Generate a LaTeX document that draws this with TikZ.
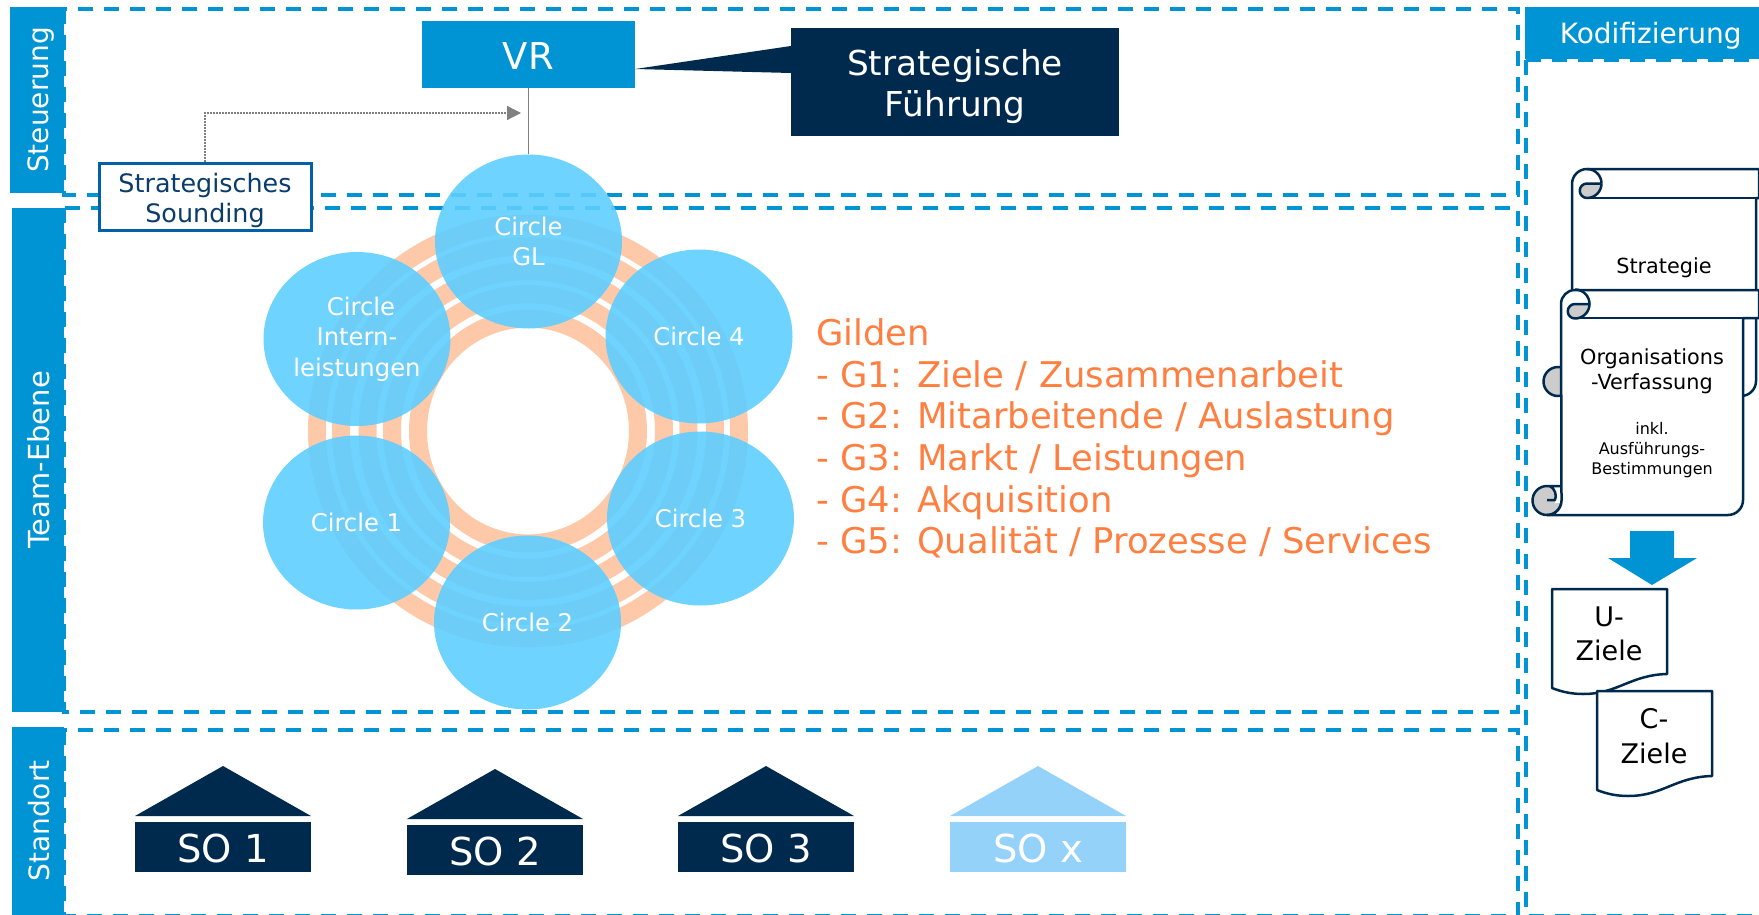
\documentclass[tikz,border=0pt]{standalone}
\usepackage{fontspec}
\setmainfont{DejaVu Sans}
\usetikzlibrary{
  positioning,
  arrows.meta,
  shapes.geometric
}
\definecolor{bandblue}{HTML}{0094D4}
\definecolor{darknavy}{HTML}{002A4D}
\definecolor{circleblue}{HTML}{5FCEFF}
\definecolor{ringorange}{HTML}{FDC9A9}
\definecolor{guildorange}{HTML}{FF7F41}
\definecolor{paleblue}{HTML}{94D2FA}
\definecolor{soundblue}{HTML}{0060A8}
\definecolor{soundtext}{HTML}{0A3D6B}
\definecolor{curlgray}{HTML}{CCCCCC}
\newcommand{\fsize}[2]{\fontsize{#1}{#2}\selectfont}
\newcommand{\scrollcurl}[2]{
  \draw[scroll] (#1,#2-14.5) arc[start angle=270,end angle=360,radius=14.5];
  \filldraw[scroll,fill=curlgray] (#1+14.5,#2) -- (#1,#2) arc[start angle=270,end angle=90,radius=7.25] arc[start angle=90,end angle=0,radius=14.5];
}

\begin{document}
\begin{tikzpicture}[
    x=1pt, y=-1pt,
    band/.style={
      fill=bandblue,
      text=white,
      inner sep=0pt,
      text height=30pt,
      text depth=7pt,
      font=\fsize{28}{33}
    },
    section/.style={
      draw=bandblue,
      line width=4pt,
      dash pattern=on 15pt off 11pt
    },
    circ/.style={
      ellipse,
      fill=circleblue,
      fill opacity=0.9,
      text opacity=1,
      text=white,
      inner sep=0pt,
      minimum width=187pt,
      minimum height=174pt,
      align=center,
      font=\fsize{24.3}{30.3}
    },
    scroll/.style={
      draw=darknavy,
      line width=2.5pt,
      line join=round
    },
    house/.style={
      text=white,
      inner sep=0pt,
      minimum width=176pt,
      minimum height=50pt,
      text height=31pt,
      text depth=0pt,
      font=\fsize{38.5}{44}
    }
  ]
  \useasboundingbox (0,0) rectangle (1759,915);

  % sections
  \draw[section] (64,9) rectangle (1518,194.5);
  \draw[section] (64,208) rectangle (1518,712);
  \draw[section] (64,730) rectangle (1518,915.5);
  \draw[section] (1526,60) -- (1526,915.5) -- (1759,915.5);
  \draw[section] (1526,60) -- (1759,60);

  \node[band, rotate=90, minimum width=186pt, minimum height=54pt] (steuerung) at (37,100) {Steuerung};
  \node[band, rotate=90, minimum width=504pt, minimum height=52pt, font=\fsize{29}{33}] (team) at (38,460) {Team-Ebene};
  \node[band, rotate=90, minimum width=189pt, minimum height=52pt] (standort) at (38,821) {Standort};
  \node[band, minimum width=234pt, minimum height=52pt, anchor=north west, text height=27pt, text depth=6pt] (kodi) at (1525,7) {\hspace*{17pt}Kodifizierung};

  % top
  \node[fill=bandblue, text=white, inner sep=0pt, minimum width=213pt, minimum height=67pt, text height=31pt, text depth=0pt, font=\fsize{37}{44}] (vr) at (528.5,54.5) {VR};
  \node[fill=darknavy, inner sep=0pt, minimum width=328pt, minimum height=108pt] (fuehrung) at (955,82) {};
  \node[text=white, inner sep=0pt, align=center, font=\fsize{34.3}{41}] (fuehrungtext) at (955,86.5) {Strategische\\Führung};
  \fill[darknavy] (vr.south east |- 0,69) -- (fuehrung.west |- 0,46) -- (fuehrung.west |- 0,73) -- cycle;

  % guild rings
  \foreach \r in {211,187,160.5,136,110}
    \draw[ringorange, line width=18pt] (528,431) ellipse ({\r} and {\r*0.94+9});

  \node[circ] (gl) at (528.5,241.5) {Circle\\GL};
  \node[circ] (intern) at (357,339) {\hspace*{8pt}Circle\\Intern-\\leistungen};
  \node[circ] (c4) at (699,336.5) {Circle 4};
  \node[circ] (c1) at (356.5,522.5) {Circle 1};
  \node[circ] (c3) at (700.5,518.5) {Circle 3};
  \node[circ] (c2) at (527.5,622.5) {Circle 2};

  \draw[gray, line width=1.2pt] (vr) -- (gl);
  \node[draw=soundblue, line width=3pt, fill=white, inner sep=0pt, minimum width=212pt, minimum height=67pt] (sounding) at (205,197) {};
  \node[text=soundtext, inner sep=0pt, align=center, font=\fsize{25.4}{30.5}] (soundingtext) at (205,200.5) {Strategisches\\Sounding};
  \coordinate (vrin) at (521,113);
  \draw[gray, dash pattern=on 2pt off 1pt, line width=1.2pt, -{Triangle[length=14pt,width=14pt]}] (sounding.north) |- (vrin);

  \node[anchor=west, text=guildorange, align=left, inner sep=0pt, font=\fsize{35.4}{41.7}] (gilden) at (816,438.5) {Gilden\\- G1: Ziele / Zusammenarbeit\\- G2: Mitarbeitende / Auslastung\\- G3: Markt / Leistungen\\- G4: Akquisition\\- G5: Qualität / Prozesse / Services};

  % locations
  \foreach \x/\y/\t/\c/\n in {223/847/SO 1/darknavy/so1, 495/850/SO 2/darknavy/so2, 766/847/SO 3/darknavy/so3, 1038/847/SO x/paleblue/sox}{
    \node[house, fill=\c] (\n) at (\x,\y) {\t};
    \fill[\c] (\x-88,\y-31) -- (\x,\y-81) -- (\x+88,\y-31) -- cycle;
  }

  % scrolls
  \filldraw[scroll,fill=curlgray] (1558,381.5) circle (14.5);
  \filldraw[scroll,fill=white] (1572,184) arc[start angle=180,end angle=270,radius=15] -- (1759,169) -- (1759,198) -- (1756,198) -- (1756,381) arc[start angle=0,end angle=90,radius=15] -- (1572,396) -- cycle;
  \draw[scroll] (1587,198) -- (1759,198);
  \scrollcurl{1587}{183.5}
  \node[font=\fsize{20.8}{25}] (strategie) at (1664,268) {Strategie};

  \filldraw[scroll,fill=curlgray] (1547,500.5) circle (14.5);
  \fill[white] (1550,486) -- (1561,486) -- (1561,503) -- (1555,503) -- (1555,500) .. controls (1557,495) and (1555,489) .. (1550,486) -- cycle;
  \draw[scroll] (1561,486) -- (1550,486) .. controls (1555,489) and (1557,495) .. (1555,500) -- (1547,500);
  \filldraw[scroll,fill=white] (1561,304) arc[start angle=180,end angle=270,radius=14] -- (1759,290) -- (1759,318) -- (1743,318) -- (1743,500) arc[start angle=0,end angle=90,radius=15] -- (1547,515) arc[start angle=90,end angle=0,radius=14.5] -- cycle;
  \draw[scroll] (1575,318) -- (1759,318);
  \scrollcurl{1575}{304}
  \node[align=center, font=\fsize{20.8}{25}] (verfassung) at (1652,371) {Organisations\\-Verfassung};
  \node[align=center, font=\fsize{16}{20}] (inkl) at (1652,450) {inkl.\\Ausführungs-\\Bestimmungen};

  \fill[bandblue] (1630,531) -- (1674,531) -- (1674,558) -- (1697,558) -- (1652,585) -- (1608,558) -- (1630,558) -- cycle;

  \foreach \x/\y/\t/\n in {1552/589/U-/uziele, 1597/691/C-/cziele}{
    \begin{scope}[shift={(\x,\y)}]
      \filldraw[scroll,fill=white] (0,0) -- (115,0) -- (115,85) .. controls (78,86) and (66,105) .. (31,105) .. controls (20,105) and (10,103) .. (0,99) -- cycle;
      \node[align=center, font=\fsize{27}{34.5}] (\n) at (57,45) {\t\\Ziele};
    \end{scope}
  }
\end{tikzpicture}
\end{document}
